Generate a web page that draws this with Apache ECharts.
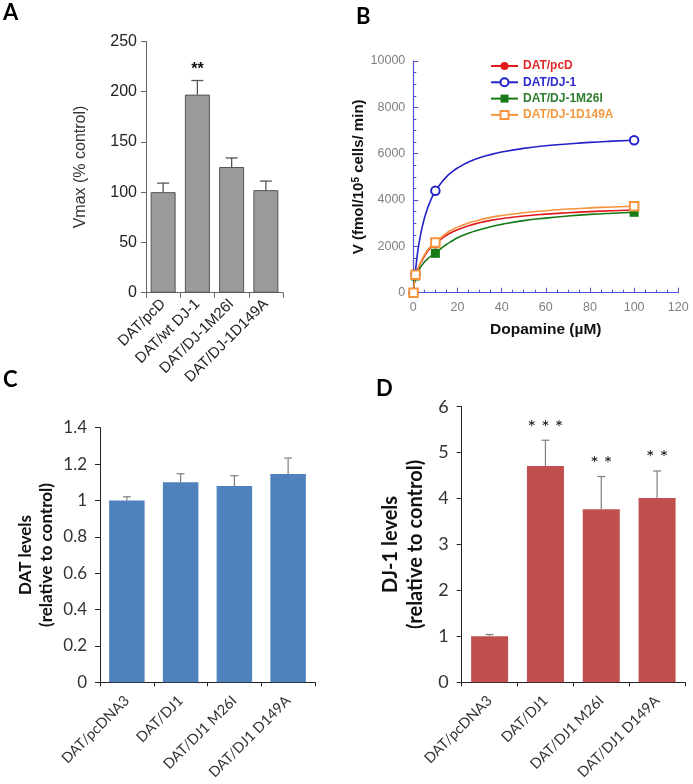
<!DOCTYPE html>
<html><head><meta charset="utf-8">
<script src="https://cdn.jsdelivr.net/npm/echarts@6/dist/echarts.min.js"></script>
<style>html,body{margin:0;padding:0;background:#fff}#c{width:693px;height:784px}</style>
</head><body><div id="c"></div>
<script>
// ---- Panel A ----
const catsA = ['DAT/pcD', 'DAT/wt DJ-1', 'DAT/DJ-1M26I', 'DAT/DJ-1D149A'];
const vmaxA = [100, 197, 125, 102];
const errTopA = [109, 211, 134, 111];
const starsA = ['', '**', '', ''];

// ---- Panel B ----
const namesB = ['DAT/pcD', 'DAT/DJ-1', 'DAT/DJ-1M26I', 'DAT/DJ-1D149A'];
const doseB = [0.1, 1, 10, 100];
const pcdB = [0, 800, 2100, 3570];
const dj1B = [0, 810, 4400, 6580];
const m26iB = [0, 720, 1700, 3470];
const d149aB = [0, 770, 2170, 3730];
const fitX = [0.1, 1, 2, 3, 4, 5, 6, 8, 10, 12.5, 15, 17.5, 20, 25, 30, 35, 40, 50, 60, 70, 80, 90, 100];
const fitPcd = [0, 800, 1000, 1220, 1400, 1570, 1720, 1950, 2100, 2300, 2480, 2610, 2720, 2890, 3020, 3120, 3195, 3310, 3390, 3450, 3500, 3540, 3570];
const fitDj1 = [100, 950, 1770, 2355, 2820, 3200, 3520, 4020, 4390, 4720, 5000, 5210, 5380, 5640, 5820, 5960, 6070, 6230, 6340, 6420, 6490, 6540, 6580];
const fitM26i = [0, 720, 900, 1060, 1200, 1320, 1420, 1580, 1700, 1900, 2080, 2230, 2370, 2570, 2720, 2850, 2950, 3110, 3220, 3310, 3380, 3430, 3470];
const fitD149a = [0, 780, 1020, 1250, 1450, 1620, 1780, 2010, 2170, 2380, 2570, 2710, 2830, 3010, 3140, 3250, 3330, 3450, 3540, 3610, 3660, 3700, 3730];

// ---- Panel C ----
const catsCD = ['DAT/pcDNA3', 'DAT/DJ1', 'DAT/DJ1 M26I', 'DAT/DJ1 D149A'];
const datC = [1.0, 1.10, 1.08, 1.145];
const errTopC = [1.02, 1.147, 1.136, 1.233];

// ---- Panel D ----
const dj1D = [1.0, 4.71, 3.77, 4.01];
const errTopD = [1.04, 5.27, 4.48, 4.60];
const starsD = ['', '***', '**', '**'];

const AR = 'Liberation Sans';
const CAL = 'Lato';

function errRender(capW, color, lw) {
  return function (params, api) {
    const b = api.coord([api.value(0), api.value(1)]);
    const t = api.coord([api.value(0), api.value(2)]);
    return { type: 'group', children: [
      { type: 'line', shape: { x1: b[0], y1: b[1], x2: t[0], y2: t[1] }, style: { stroke: color, lineWidth: lw } },
      { type: 'line', shape: { x1: t[0] - capW / 2, y1: t[1], x2: t[0] + capW / 2, y2: t[1] }, style: { stroke: color, lineWidth: lw } }
    ] };
  };
}
const starsSrc = { starsA: starsA, starsD: starsD };
function starRender(font, gap, spaced) {
  return function (params, api) {
    const t = api.coord([api.value(0), api.value(1)]);
    const txt = starsSrc[params.seriesName][params.dataIndex];
    return { type: 'text', x: t[0], y: t[1] - gap,
      style: { text: spaced ? txt.split('').join(' ') : txt, font: font, fill: '#111', align: 'center', verticalAlign: 'bottom' } };
  };
}

const idx = [0, 1, 2, 3];
const bColors = ['#e31a1c', '#2323c8', '#167a16', '#f7943c'];
const bLegendColors = ['#e02a2a', '#2b2bd0', '#2e7d2e', '#f39a40'];
const bSymbols = ['circle', 'emptyCircle', 'rect', 'emptyRect'];
const fitsB = [fitPcd, fitDj1, fitM26i, fitD149a];
const ptsB = [pcdB, dj1B, m26iB, d149aB];

const blue = '#5050d0';

const series = [];
// A
series.push({ type: 'bar', xAxisIndex: 0, yAxisIndex: 0, data: vmaxA, barWidth: 25,
  itemStyle: { color: '#9b9b9b', borderColor: '#555', borderWidth: 1 } });
series.push({ type: 'custom', xAxisIndex: 0, yAxisIndex: 0, z: 5, renderItem: errRender(12, '#555', 1.3),
  data: idx.map(i => [i, vmaxA[i], errTopA[i]]) });
series.push({ type: 'custom', name: 'starsA', xAxisIndex: 0, yAxisIndex: 0, z: 5, renderItem: starRender('bold 16px ' + AR, 3, false),
  data: idx.map(i => [i, errTopA[i]]) });
// B
namesB.forEach((n, i) => {
  series.push({ type: 'line', name: n, xAxisIndex: 1, yAxisIndex: 1, smooth: 0.5,
    symbol: bSymbols[i], symbolSize: 9, showSymbol: false, sampling: null,
    lineStyle: { color: bColors[i], width: 1.6 }, itemStyle: { color: bColors[i] },
    data: fitX.map((x, k) => [x, fitsB[i][k]]), z: 2 });
});
namesB.forEach((n, i) => {
  series.push({ type: 'scatter', name: n + ' pts', xAxisIndex: 1, yAxisIndex: 1,
    symbol: bSymbols[i], symbolSize: i % 2 ? 8.5 : 9,
    itemStyle: { color: bColors[i], borderWidth: 1.2, opacity: 1 },
    data: doseB.map((x, k) => [x, ptsB[i][k]]), z: 3 + i });
});
// C
series.push({ type: 'bar', xAxisIndex: 2, yAxisIndex: 2, data: datC, barWidth: 35.5, itemStyle: { color: '#4f81bd' } });
series.push({ type: 'custom', xAxisIndex: 2, yAxisIndex: 2, z: 5, renderItem: errRender(8, '#7f7f7f', 1.2),
  data: idx.map(i => [i, datC[i], errTopC[i]]) });
// D
series.push({ type: 'bar', xAxisIndex: 3, yAxisIndex: 3, data: dj1D, barWidth: 37, itemStyle: { color: '#c0504d' } });
series.push({ type: 'custom', xAxisIndex: 3, yAxisIndex: 3, z: 5, renderItem: errRender(8, '#7f7f7f', 1.2),
  data: idx.map(i => [i, dj1D[i], errTopD[i]]) });
series.push({ type: 'custom', name: 'starsD', xAxisIndex: 3, yAxisIndex: 3, z: 5, renderItem: starRender('20px ' + CAL, 3, true),
  data: idx.map(i => [i, errTopD[i]]) });

function catAxis(grid, data, opts) {
  return { type: 'category', gridIndex: grid, data: data,
    axisLine: { show: true, lineStyle: { color: opts.color, width: 1 } },
    axisTick: { show: true, alignWithLabel: false, length: opts.tickLen, lineStyle: { color: opts.color } },
    axisLabel: { interval: 0, rotate: 45, fontSize: opts.fs, color: opts.lc, fontFamily: opts.ff, margin: opts.margin },
    splitLine: { show: false } };
}
function valAxis(grid, min, max, interval, opts) {
  return { type: 'value', gridIndex: grid, min: min, max: max, interval: interval,
    axisLine: { show: true, lineStyle: { color: opts.color, width: 1 } },
    axisTick: { show: true, length: 5, lineStyle: { color: opts.color } },
    axisLabel: { fontSize: opts.fs, color: opts.lc, fontFamily: opts.ff, margin: opts.margin },
    splitLine: { show: false },
    name: opts.name, nameLocation: 'middle', nameGap: opts.nameGap,
    nameTextStyle: opts.nameStyle };
}
const plain = v => String(v);

const option = {
  animation: false,
  backgroundColor: '#fff',
  grid: [
    { left: 146, top: 41.3, width: 137, height: 251.4 },
    { left: 413.3, top: 61, width: 265, height: 231.7 },
    { left: 100, top: 427.7, width: 215, height: 254.6 },
    { left: 461.7, top: 406.7, width: 223.3, height: 275.6 }
  ],
  legend: {
    orient: 'vertical', left: 485, top: 55, itemWidth: 27, itemHeight: 10, itemGap: 4.3, itemTextGap: 10,
    selectedMode: false,
    textStyle: { fontWeight: 'bold', fontSize: 12, fontFamily: AR },
    data: namesB.map((n, i) => ({ name: n, textStyle: { color: bLegendColors[i] } }))
  },
  xAxis: [
    catAxis(0, catsA, { color: '#666', tickLen: 5, fs: 15, lc: '#222', ff: AR, margin: 9 }),
    { type: 'value', gridIndex: 1, min: 0, max: 120, interval: 20,
      axisLine: { show: true, onZero: false, lineStyle: { color: blue, width: 1.2 } },
      axisTick: { show: true, inside: true, length: 5, lineStyle: { color: blue } },
      minorTick: { show: true, splitNumber: 4, length: 3, lineStyle: { color: blue } },
      splitLine: { show: false },
      axisLabel: { fontSize: 12.5, color: '#808080', fontFamily: AR, margin: 8, formatter: plain },
      name: 'Dopamine (µM)', nameLocation: 'middle', nameGap: 29,
      nameTextStyle: { fontWeight: 'bold', fontSize: 15.5, color: '#111', fontFamily: AR } },
    catAxis(2, catsCD, { color: '#222', tickLen: 4, fs: 14.5, lc: '#333', ff: CAL, margin: 16 }),
    catAxis(3, catsCD, { color: '#222', tickLen: 4, fs: 14.5, lc: '#333', ff: CAL, margin: 16 })
  ],
  yAxis: [
    valAxis(0, 0, 250, 50, { color: '#666', fs: 16, lc: '#222', ff: AR, margin: 9,
      name: 'Vmax (% control)', nameGap: 57, nameStyle: { fontSize: 16, color: '#333', fontFamily: AR } }),
    { type: 'value', gridIndex: 1, min: 0, max: 10000, interval: 2000,
      axisLine: { show: true, lineStyle: { color: blue, width: 1.2 } },
      axisTick: { show: true, inside: true, length: 5, lineStyle: { color: blue } },
      minorTick: { show: true, splitNumber: 4, length: 3, lineStyle: { color: blue } },
      splitLine: { show: false },
      axisLabel: { fontSize: 12.5, color: '#808080', fontFamily: AR, margin: 8, formatter: plain },
      name: 'V (fmol/10{sup|5} cells/ min)', nameLocation: 'middle', nameGap: 35,
      nameTextStyle: { fontWeight: 'bold', fontSize: 15, color: '#111', fontFamily: AR,
        rich: { sup: { fontSize: 10, fontWeight: 'bold', fontFamily: AR, color: '#111', verticalAlign: 'top' } } } },
    valAxis(2, 0, 1.4, 0.2, { color: '#222', fs: 17, lc: '#333', ff: CAL, margin: 13,
      name: 'DAT levels\n(relative to control)', nameGap: 43,
      nameStyle: { fontSize: 17, lineHeight: 21, fontWeight: 'bold', color: '#111', fontFamily: CAL } }),
    valAxis(3, 0, 6, 1, { color: '#222', fs: 18, lc: '#333', ff: CAL, margin: 13,
      name: 'DJ-1 levels\n(relative to control)', nameGap: 34,
      nameStyle: { fontSize: 20, lineHeight: 25, fontWeight: 'bold', color: '#111', fontFamily: CAL } })
  ],
  graphic: [
    { type: 'text', x: 3, y: 13, style: { text: 'A', font: 'bold 22px ' + CAL, fill: '#000', verticalAlign: 'middle' } },
    { type: 'text', x: 356, y: 16.5, style: { text: 'B', font: 'bold 22px ' + CAL, fill: '#000', verticalAlign: 'middle' } },
    { type: 'text', x: 3, y: 380, style: { text: 'C', font: 'bold 22px ' + CAL, fill: '#000', verticalAlign: 'middle' } },
    { type: 'text', x: 376, y: 388.5, style: { text: 'D', font: 'bold 22px ' + CAL, fill: '#000', verticalAlign: 'middle' } }
  ],
  series: series
};
const chart = echarts.init(document.getElementById('c'), null, { renderer: 'canvas' });
chart.setOption(option);
</script>
</body></html>
